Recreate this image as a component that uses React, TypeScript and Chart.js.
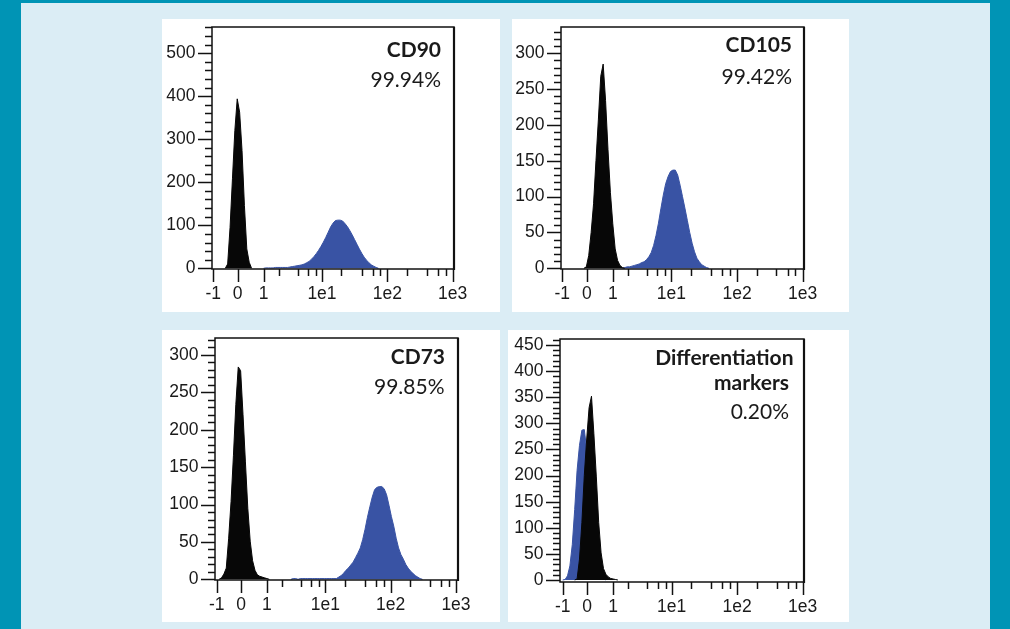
import React, { useEffect, useRef } from 'react';
import { Chart, registerables } from 'chart.js';

Chart.register(...registerables);

// x axis: logicle-like display scale, position 0 = "-1", position 100 = "1e3"
const X_TICK_POS = [0, 10.2, 21, 45.4, 72.7, 100];
const X_TICK_LABELS = ['-1', '0', '1', '1e1', '1e2', '1e3'];
const X_MINOR_POS = [27.3, 35.3, 39.6, 42.9, 53.5, 62.0, 66.5, 69.8, 80.9, 89.1, 93.7, 97.0];

const BIN = 1; // histogram bin width in display units

// CD90
const CD90_CTRL_START = 5;
const CD90_CTRL = [0, 10, 95, 208, 320, 394, 363, 274, 146, 45, 14, 0];
const CD90_STAIN_START = 21;
const CD90_STAIN = [0, 1, 1, 1, 1, 2, 2, 2, 2, 2, 2, 3, 4, 5, 6, 7, 8, 10, 13, 16, 21, 27, 34, 42, 51, 61, 72, 84, 96, 105, 111, 112, 112, 110, 104, 97, 88, 78, 67, 56, 45, 35, 26, 19, 13, 8, 5, 2, 0];

// CD105
const CD105_CTRL_START = 9;
const CD105_CTRL = [0, 2, 18, 50, 90, 150, 207, 268, 285, 234, 166, 106, 62, 27, 11, 4, 1, 0];
const CD105_STAIN_START = 25;
const CD105_STAIN = [0, 1, 2, 2, 3, 4, 5, 6, 8, 9, 12, 16, 22, 32, 46, 63, 83, 102, 118, 128, 135, 137, 137, 130, 116, 100, 84, 67, 50, 35, 23, 14, 9, 5, 3, 1, 0];

// CD73
const CD73_CTRL_START = 1;
const CD73_CTRL = [0, 2, 7, 15, 55, 104, 166, 234, 284, 279, 220, 157, 95, 51, 25, 12, 6, 4, 3, 2, 1, 0];
const CD73_STAIN_START = 31;
const CD73_STAIN = [0, 1, 1, 0, 1, 1, 1, 1, 1, 1, 1, 1, 1, 1, 1, 1, 1, 1, 1, 1, 3, 5, 8, 12, 15, 19, 23, 29, 35, 42, 53, 67, 83, 97, 110, 120, 123, 124, 124, 121, 113, 99, 84, 71, 55, 42, 33, 27, 20, 15, 11, 8, 5, 3, 1, 0];

// Differentiation markers
const DIFF_CTRL_START = 5;
const DIFF_CTRL = [0, 2, 40, 110, 200, 270, 330, 352, 280, 199, 110, 52, 22, 11, 6, 3, 2, 1, 0];
const DIFF_STAIN_START = 0;
const DIFF_STAIN = [0, 1, 8, 27, 68, 135, 210, 258, 287, 288, 250, 200, 140, 85, 45, 20, 8, 3, 0];

const TITLES_CD90 = ['CD90', '99.94%'];
const TITLES_CD105 = ['CD105', '99.42%'];
const TITLES_CD73 = ['CD73', '99.85%'];
const TITLES_DIFF = ['Differentiation', 'markers', '0.20%'];

const BLUE = '#3953a4';
const BLACK = '#070707';
const TEXT = '#1a1a1a';
const TICK_FONT = '"Liberation Sans", Arial, sans-serif';

const PANELS = [
  {
    key: 'cd90',
    box: { left: 162, top: 19, width: 338, height: 293 },
    area: { left: 50, top: 8, right: 46, bottom: 43 },
    xMin: -0.54, xMax: 100.54, yMin: -1.6, yMax: 561, yMajor: 100, yMinor: 20, yLabelMax: 500,
    series: [
      { start: CD90_CTRL_START, counts: CD90_CTRL, color: BLACK },
      { start: CD90_STAIN_START, counts: CD90_STAIN, color: BLUE },
    ],
    titles: [
      { text: TITLES_CD90[0], bold: true, x: 279, y: 37.5 },
      { text: TITLES_CD90[1], bold: false, x: 279, y: 67.5 },
    ],
  },
  {
    key: 'cd105',
    box: { left: 512, top: 19, width: 337, height: 293 },
    area: { left: 49, top: 8, right: 45, bottom: 43 },
    xMin: -0.54, xMax: 100.54, yMin: -1.0, yMax: 336.7, yMajor: 50, yMinor: 10, yLabelMax: 300,
    series: [
      { start: CD105_CTRL_START, counts: CD105_CTRL, color: BLACK },
      { start: CD105_STAIN_START, counts: CD105_STAIN, color: BLUE },
    ],
    titles: [
      { text: TITLES_CD105[0], bold: true, x: 280, y: 32.7 },
      { text: TITLES_CD105[1], bold: false, x: 280, y: 65 },
    ],
  },
  {
    key: 'cd73',
    box: { left: 162, top: 330, width: 338, height: 292 },
    area: { left: 53, top: 8, right: 42, bottom: 42 },
    xMin: -0.71, xMax: 100.84, yMin: -0.9, yMax: 322.7, yMajor: 50, yMinor: 10, yLabelMax: 300,
    series: [
      { start: CD73_CTRL_START, counts: CD73_CTRL, color: BLACK },
      { start: CD73_STAIN_START, counts: CD73_STAIN, color: BLUE },
    ],
    titles: [
      { text: TITLES_CD73[0], bold: true, x: 283, y: 34.3 },
      { text: TITLES_CD73[1], bold: false, x: 282.5, y: 64 },
    ],
  },
  {
    key: 'diff',
    box: { left: 508, top: 330, width: 341, height: 292 },
    area: { left: 52, top: 9, right: 45, bottom: 40 },
    xMin: -1.12, xMax: 100.54, yMin: -3.8, yMax: 461.5, yMajor: 50, yMinor: 10, yLabelMax: 450,
    series: [
      { start: DIFF_CTRL_START, counts: DIFF_CTRL, color: BLACK },
      { start: DIFF_STAIN_START, counts: DIFF_STAIN, color: BLUE },
    ],
    titles: [
      { text: TITLES_DIFF[0], bold: true, x: 285.5, y: 35 },
      { text: TITLES_DIFF[1], bold: true, x: 281, y: 60 },
      { text: TITLES_DIFF[2], bold: false, x: 281, y: 89.3 },
    ],
  },
];

function toPoints(start: number, counts: number[]) {
  return counts.map((c, i) => ({ x: start + i * BIN, y: c }));
}

function Panel({ cfg }: { cfg: any }) {
  const ref = useRef<HTMLCanvasElement>(null);
  useEffect(() => {
    const framePlugin = {
      id: 'frameTicks_' + cfg.key,
      afterDatasetsDraw(chart: any) {
        const { ctx, chartArea: a } = chart;
        const xs = chart.scales.x;
        const ys = chart.scales.y;
        const line = (x1: number, y1: number, x2: number, y2: number) => {
          ctx.beginPath();
          ctx.moveTo(x1, y1);
          ctx.lineTo(x2, y2);
          ctx.stroke();
        };
        ctx.save();
        ctx.strokeStyle = '#111';
        ctx.lineWidth = 1.5;
        for (let v = 0; v <= ys.max + 0.001; v += cfg.yMinor) {
          const major = Math.abs(v % cfg.yMajor) < 0.001;
          const y = Math.round(ys.getPixelForValue(v)) + 0.5;
          line(a.left - (major ? 14 : 7), y, a.left, y);
        }
        X_TICK_POS.forEach((v) => {
          const x = Math.round(xs.getPixelForValue(v)) + 0.5;
          line(x, a.bottom, x, a.bottom + 13);
        });
        X_MINOR_POS.forEach((v) => {
          const x = Math.round(xs.getPixelForValue(v)) + 0.5;
          line(x, a.bottom, x, a.bottom + 7);
        });
        ctx.lineWidth = 1.5;
        ctx.strokeRect(a.left, a.top, a.right - a.left, a.bottom - a.top);
        ctx.lineWidth = 2.2;
        line(a.right, a.top, a.right, a.bottom + 1);
        ctx.fillStyle = TEXT;
        ctx.textAlign = 'right';
        ctx.textBaseline = 'alphabetic';
        cfg.titles.forEach((t: any) => {
          ctx.font = (t.bold ? 'bold ' : '') + '21px Lato, "Open Sans", sans-serif';
          ctx.fillText(t.text, t.x, t.y);
        });
        ctx.restore();
      },
    };

    const chart = new Chart(ref.current as HTMLCanvasElement, {
      type: 'line',
      data: {
        datasets: cfg.series.map((s: any) => ({
          data: toPoints(s.start, s.counts),
          borderColor: s.color,
          backgroundColor: s.color,
          borderWidth: 1,
          fill: 'origin',
          pointRadius: 0,
          tension: 0,
        })),
      },
      options: {
        animation: false,
        responsive: false,
        maintainAspectRatio: false,
        layout: { padding: { left: 0, top: cfg.area.top, right: cfg.area.right, bottom: 0 } },
        plugins: {
          legend: { display: false },
          tooltip: { enabled: false },
          title: { display: false },
        },
        scales: {
          x: {
            type: 'linear',
            min: cfg.xMin,
            max: cfg.xMax,
            grid: { display: false, drawTicks: false },
            border: { display: false },
            afterBuildTicks: (s: any) => {
              s.ticks = X_TICK_POS.map((v) => ({ value: v }));
            },
            afterFit: (s: any) => {
              s.height = cfg.area.bottom;
              s.paddingLeft = 0;
              s.paddingRight = 0;
            },
            ticks: {
              autoSkip: false,
              maxRotation: 0,
              minRotation: 0,
              padding: 15,
              color: TEXT,
              font: { family: TICK_FONT, size: 17.5 },
              callback: (_v: any, i: number) => X_TICK_LABELS[i],
            },
          },
          y: {
            type: 'linear',
            min: cfg.yMin,
            max: cfg.yMax,
            grid: { display: false, drawTicks: false },
            border: { display: false },
            afterBuildTicks: (s: any) => {
              const t: any[] = [];
              for (let v = 0; v <= cfg.yLabelMax; v += cfg.yMajor) t.push({ value: v });
              s.ticks = t;
            },
            afterFit: (s: any) => {
              s.width = cfg.area.left;
              s.paddingTop = 0;
              s.paddingBottom = 0;
            },
            ticks: {
              padding: 16.5,
              color: TEXT,
              font: { family: TICK_FONT, size: 17.5 },
              callback: (v: any) => String(v),
            },
          },
        },
      } as any,
      plugins: [framePlugin],
    });
    return () => chart.destroy();
  }, [cfg]);

  return (
    <canvas
      ref={ref}
      width={cfg.box.width}
      height={cfg.box.height}
      style={{
        position: 'absolute',
        left: cfg.box.left,
        top: cfg.box.top,
        width: cfg.box.width,
        height: cfg.box.height,
        background: '#ffffff',
      }}
    />
  );
}

export default function App() {
  return (
    <div
      style={{
        position: 'fixed',
        left: 0,
        top: 0,
        width: 1010,
        height: 629,
        background: '#0094b5',
        overflow: 'hidden',
      }}
    >
      <div
        style={{
          position: 'absolute',
          left: 21,
          top: 3,
          width: 969,
          height: 626,
          background: '#dbedf5',
        }}
      />
      {PANELS.map((p) => (
        <Panel key={p.key} cfg={p} />
      ))}
    </div>
  );
}
